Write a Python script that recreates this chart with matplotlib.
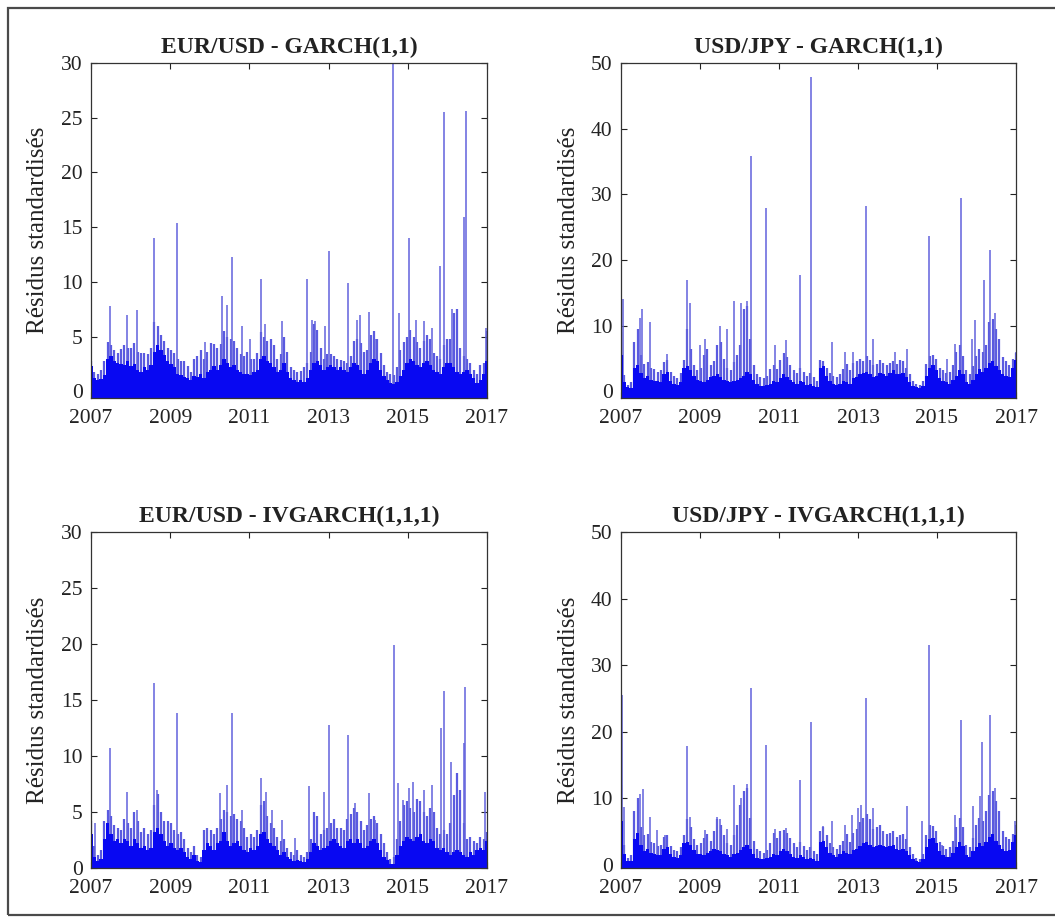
import numpy as np
import matplotlib.pyplot as plt
from matplotlib.patches import Rectangle

plt.rcParams['font.family'] = ['Liberation Serif', 'DejaVu Serif']

# monthly levels of the dense part of each series (Jan 2007 .. Dec 2016)
# "low" = solid dark part, "high" = lighter top of the dense lines
eur_garch_low = [
    2.3, 1.2, 1.0, 1.1, 1.5, 3.0, 3.2, 2.8, 2.6, 2.5, 2.4, 2.8,
    2.3, 2.5, 2.0, 1.8, 2.2, 2.0, 2.4, 3.6, 4.2, 3.8, 3.3, 2.8,
    2.5, 2.2, 1.6, 1.5, 1.3, 1.2, 1.0, 1.4, 1.3, 1.6, 1.2, 1.8,
    2.0, 2.3, 2.0, 2.4, 3.0, 2.6, 2.2, 2.4, 2.0, 1.8, 1.6, 1.6,
    1.5, 1.8, 2.0, 3.0, 3.2, 2.8, 2.6, 2.2, 1.8, 2.0, 2.6, 1.8,
    1.2, 1.0, 0.9, 1.0, 0.9, 1.2, 2.0, 2.6, 2.8, 2.4, 2.0, 2.2,
    2.4, 2.2, 2.0, 2.2, 2.0, 1.8, 2.2, 2.6, 2.4, 2.0, 1.6, 2.0,
    2.6, 3.0, 2.8, 2.0, 1.4, 1.0, 0.8, 0.7, 0.9, 1.4, 2.0, 2.6,
    3.0, 2.8, 2.4, 2.2, 2.6, 2.8, 2.4, 2.0, 1.8, 1.6, 2.2, 2.6,
    2.6, 2.2, 1.8, 1.6, 1.8, 2.0, 1.6, 1.2, 0.8, 1.0, 1.6, 2.8,
]
eur_garch_high = [
    2.8, 1.8, 1.6, 2.0, 2.8, 4.5, 4.2, 3.8, 3.5, 3.9, 4.2, 4.0,
    4.0, 4.4, 3.6, 3.5, 3.5, 3.4, 4.0, 6.3, 6.0, 5.2, 4.6, 4.0,
    3.8, 3.5, 3.0, 2.8, 2.8, 2.3, 1.8, 3.0, 3.2, 3.8, 3.0, 3.6,
    4.4, 4.3, 4.0, 4.3, 5.5, 5.0, 4.8, 4.6, 4.0, 3.4, 3.2, 3.6,
    3.0, 3.0, 3.5, 5.4, 5.0, 4.6, 4.8, 4.2, 3.0, 3.4, 5.0, 3.6,
    2.2, 2.0, 1.8, 1.9, 2.2, 2.6, 3.6, 6.2, 5.6, 4.0, 3.0, 3.4,
    3.4, 3.2, 3.0, 2.9, 2.8, 2.6, 3.2, 4.6, 4.8, 4.4, 3.6, 3.8,
    5.2, 5.5, 4.8, 3.5, 2.4, 1.8, 1.6, 1.5, 2.2, 3.8, 4.5, 5.0,
    5.6, 5.0, 4.5, 4.0, 4.6, 5.2, 4.8, 3.5, 3.2, 3.0, 4.2, 4.8,
    4.8, 7.2, 7.5, 4.0, 3.2, 3.0, 2.6, 2.0, 1.6, 2.4, 2.6, 5.5,
]
eur_garch_spike_t = [2007.49, 2007.91, 2008.16, 2008.58, 2009.17, 2009.89, 2010.31,
                     2010.43, 2010.56, 2010.81, 2011.02, 2011.29, 2011.40, 2011.82,
                     2012.45, 2012.58, 2012.66, 2012.90, 2013.00, 2013.48, 2013.72,
                     2013.80, 2014.01, 2014.18, 2014.63, 2014.77, 2015.02, 2015.20,
                     2015.40, 2015.61, 2015.82, 2015.92, 2016.12, 2016.41, 2016.46,
                     2016.98]
eur_garch_spike_v = [7.8, 7.0, 7.4, 14.0, 15.4, 4.5, 8.7,
                     7.9, 12.3, 6.0, 4.8, 10.3, 6.2, 6.4,
                     10.3, 6.5, 6.4, 6.0, 12.8, 9.9, 6.5,
                     7.0, 7.3, 4.8, 30.0, 7.2, 14.0, 6.5,
                     6.4, 5.8, 11.5, 25.5, 7.5, 15.9, 25.6,
                     5.8]

jpy_garch_low = [
    5.5, 1.5, 0.6, 0.5, 3.5, 4.0, 2.8, 2.0, 2.4, 1.8, 1.6, 1.6,
    1.4, 2.6, 3.0, 1.6, 1.2, 1.0, 1.4, 3.6, 3.8, 3.2, 2.4, 1.8,
    1.6, 1.4, 1.8, 2.2, 2.4, 2.6, 2.2, 1.8, 1.6, 1.4, 1.6, 1.8,
    2.0, 2.4, 3.0, 2.6, 1.8, 1.2, 0.9, 0.8, 1.0, 1.2, 1.6, 1.4,
    2.0, 2.6, 2.2, 1.8, 1.4, 1.2, 1.6, 1.4, 1.0, 1.2, 0.8, 0.6,
    3.6, 3.8, 2.4, 1.6, 1.2, 1.0, 1.2, 1.6, 1.4, 1.2, 2.0, 2.2,
    2.6, 2.8, 3.0, 2.6, 2.2, 2.4, 2.8, 2.6, 2.4, 2.8, 3.2, 2.6,
    2.6, 2.8, 2.2, 1.4, 0.8, 0.6, 0.5, 0.8, 2.4, 3.6, 4.0, 3.2,
    2.0, 1.6, 1.4, 1.2, 1.8, 2.4, 3.2, 2.6, 1.4, 1.2, 1.8, 2.6,
    3.4, 3.0, 3.6, 4.4, 4.6, 3.8, 3.2, 2.6, 2.4, 2.2, 3.6, 4.8,
]
jpy_garch_high = [
    9.0, 2.5, 1.0, 1.4, 7.5, 9.5, 5.5, 4.2, 4.5, 3.6, 3.4, 3.0,
    3.2, 4.5, 4.8, 3.0, 2.4, 2.0, 2.8, 4.8, 9.5, 6.5, 4.0, 3.2,
    3.6, 5.6, 6.4, 4.0, 4.6, 7.0, 7.5, 5.0, 3.6, 3.2, 4.5, 5.5,
    7.0, 12.5, 13.0, 8.0, 4.0, 2.6, 2.2, 2.0, 2.4, 3.4, 4.0, 3.4,
    4.8, 5.8, 5.2, 4.0, 3.2, 2.8, 3.5, 3.0, 2.4, 2.8, 2.2, 1.6,
    4.8, 4.6, 3.6, 2.8, 2.4, 2.2, 2.6, 3.4, 4.2, 3.2, 4.4, 4.6,
    5.0, 4.6, 5.4, 4.8, 4.0, 4.2, 4.8, 4.4, 4.0, 4.4, 4.6, 4.2,
    4.8, 4.6, 3.6, 2.6, 1.6, 1.2, 1.0, 1.6, 4.2, 5.4, 5.6, 5.0,
    3.6, 3.2, 2.8, 3.0, 4.0, 6.0, 7.0, 5.4, 3.2, 2.6, 3.8, 5.4,
    6.4, 6.0, 7.0, 10.5, 11.0, 9.5, 8.0, 5.2, 4.6, 4.0, 5.0, 5.8,
]
jpy_garch_spike_t = [2007.04, 2007.48, 2007.52, 2007.73, 2008.16, 2008.66, 2008.74,
                     2009.00, 2009.13, 2009.50, 2009.68, 2009.87, 2010.05, 2010.18,
                     2010.29, 2010.66, 2010.90, 2011.17, 2011.53, 2011.81, 2012.33,
                     2012.67, 2012.88, 2013.19, 2013.39, 2013.94, 2014.23, 2014.80,
                     2015.25, 2015.45, 2015.62, 2015.88, 2015.96, 2016.20, 2016.34,
                     2016.46, 2016.99]
jpy_garch_spike_v = [14.0, 11.2, 12.5, 10.5, 5.7, 17.0, 13.5,
                     7.0, 8.0, 10.0, 9.5, 13.8, 13.5, 13.8,
                     35.8, 28.0, 7.0, 7.8, 17.8, 47.8, 7.5,
                     6.0, 6.0, 28.3, 8.0, 6.0, 6.5, 23.7,
                     5.0, 7.2, 29.5, 8.0, 10.8, 17.0, 21.5,
                     12.0, 6.0]

eur_ivgarch_low = [
    3.0, 1.0, 0.6, 0.8, 2.6, 4.0, 3.0, 2.4, 2.6, 2.2, 2.6, 2.4,
    2.0, 2.6, 2.2, 1.8, 2.0, 1.6, 1.8, 3.2, 3.6, 3.0, 2.4, 2.0,
    2.2, 1.8, 1.6, 1.8, 1.4, 1.0, 0.8, 1.2, 0.6, 0.5, 1.6, 2.2,
    2.0, 1.6, 2.2, 2.4, 3.2, 2.4, 2.0, 2.2, 2.4, 2.0, 1.6, 1.4,
    1.8, 1.6, 2.0, 3.0, 3.2, 2.6, 2.2, 2.0, 1.6, 1.2, 1.4, 1.0,
    0.8, 0.6, 0.7, 0.6, 0.5, 0.8, 1.4, 2.2, 2.0, 1.6, 1.8, 2.0,
    2.4, 2.6, 2.2, 2.0, 1.8, 2.4, 2.6, 2.2, 2.6, 2.2, 1.8, 2.0,
    2.4, 2.6, 2.2, 1.6, 1.0, 0.7, 0.4, 0.4, 1.2, 2.0, 2.4, 2.8,
    2.6, 2.4, 2.8, 3.0, 2.4, 2.2, 2.6, 2.4, 1.8, 1.6, 1.8, 1.4,
    1.2, 1.4, 1.6, 1.4, 1.2, 1.0, 1.4, 1.2, 1.6, 1.8, 1.6, 2.4,
]
eur_ivgarch_high = [
    4.2, 2.0, 1.2, 1.6, 4.2, 5.2, 4.6, 3.8, 3.6, 3.4, 4.4, 4.0,
    3.6, 5.0, 4.2, 3.2, 3.6, 3.0, 3.4, 5.6, 6.6, 5.0, 4.2, 4.2,
    4.0, 3.4, 3.0, 3.2, 2.6, 1.8, 1.4, 2.0, 1.2, 1.0, 3.4, 3.6,
    3.4, 3.0, 3.6, 4.4, 5.2, 5.0, 4.6, 4.8, 4.4, 4.2, 3.6, 2.8,
    3.0, 2.8, 3.4, 5.6, 6.0, 4.6, 4.0, 3.6, 2.8, 2.4, 2.6, 1.8,
    1.4, 1.2, 1.6, 1.2, 1.0, 1.4, 2.6, 5.0, 4.6, 3.0, 3.4, 3.6,
    4.0, 4.4, 3.6, 3.6, 3.4, 4.4, 4.8, 5.4, 5.0, 4.2, 3.4, 3.8,
    4.4, 4.6, 4.0, 3.0, 2.2, 1.4, 0.8, 1.0, 2.6, 4.2, 5.6, 6.0,
    5.4, 5.0, 6.2, 6.0, 5.0, 4.6, 5.4, 5.0, 3.6, 3.0, 3.4, 3.0,
    4.0, 6.5, 8.5, 7.0, 4.0, 2.6, 2.8, 2.4, 2.2, 2.8, 2.6, 3.2,
]
eur_ivgarch_spike_t = [2007.10, 2007.49, 2007.91, 2008.16, 2008.58, 2008.67, 2009.17,
                       2009.93, 2010.27, 2010.43, 2010.56, 2010.81, 2011.29, 2011.42,
                       2011.57, 2011.82, 2012.16, 2012.50, 2012.88, 2013.02, 2013.48,
                       2013.67, 2014.01, 2014.18, 2014.64, 2014.74, 2014.89, 2015.04,
                       2015.14, 2015.42, 2015.62, 2015.84, 2015.92, 2016.09, 2016.41,
                       2016.45, 2016.96]
eur_ivgarch_spike_v = [4.0, 10.7, 6.8, 5.2, 16.5, 7.0, 13.8,
                       3.6, 6.7, 7.4, 13.8, 5.2, 8.0, 6.8,
                       5.2, 4.3, 2.7, 7.3, 6.8, 12.8, 11.9,
                       5.8, 6.7, 4.3, 19.9, 7.6, 6.1, 7.1,
                       7.7, 7.0, 7.4, 12.5, 15.8, 9.5, 11.2,
                       16.2, 6.8]

jpy_ivgarch_low = [
    6.5, 1.6, 0.5, 0.5, 3.8, 4.8, 3.0, 2.0, 2.4, 1.8, 1.6, 1.4,
    1.4, 2.4, 2.6, 1.6, 1.2, 1.0, 1.4, 3.2, 3.4, 3.0, 2.2, 1.6,
    1.6, 1.4, 1.8, 2.0, 2.4, 2.2, 2.0, 1.6, 1.4, 1.2, 1.6, 1.8,
    2.2, 2.6, 3.0, 2.4, 1.6, 1.0, 0.8, 0.8, 1.0, 1.2, 1.6, 1.4,
    2.0, 2.4, 2.0, 1.6, 1.2, 1.0, 1.4, 1.2, 0.8, 1.0, 0.8, 0.6,
    3.4, 3.6, 2.6, 1.8, 1.4, 1.2, 1.6, 2.0, 1.8, 1.6, 2.2, 2.4,
    2.8, 3.2, 3.4, 3.0, 2.6, 2.8, 3.0, 2.8, 2.6, 2.8, 3.0, 2.4,
    2.2, 2.4, 2.0, 1.4, 0.8, 0.5, 0.4, 0.8, 2.6, 3.8, 4.0, 3.2,
    2.0, 1.4, 1.2, 1.2, 1.8, 2.6, 3.4, 2.8, 1.4, 1.2, 2.0, 2.6,
    3.2, 2.8, 3.4, 4.2, 4.6, 3.6, 3.0, 2.4, 2.0, 2.2, 3.4, 4.4,
]
jpy_ivgarch_high = [
    12.0, 3.0, 1.0, 1.4, 8.0, 10.0, 5.6, 4.4, 4.6, 3.4, 3.2, 2.8,
    3.0, 4.2, 4.4, 2.8, 2.2, 2.0, 2.6, 4.4, 6.8, 5.6, 3.8, 3.0,
    3.2, 4.0, 4.6, 3.6, 5.0, 6.8, 6.0, 4.4, 3.2, 3.0, 4.4, 6.0,
    9.0, 11.0, 11.5, 7.0, 3.6, 2.4, 2.0, 1.8, 2.2, 3.2, 4.8, 4.0,
    5.0, 5.2, 4.8, 4.0, 3.2, 2.6, 3.4, 2.8, 2.2, 2.6, 2.0, 1.6,
    5.0, 5.6, 4.4, 3.2, 2.6, 2.4, 3.0, 3.6, 4.6, 3.4, 4.8, 5.4,
    6.4, 7.0, 7.6, 6.8, 5.4, 5.6, 6.0, 5.0, 4.6, 4.8, 5.0, 4.2,
    4.4, 4.6, 3.8, 2.6, 1.6, 1.0, 0.8, 1.6, 4.4, 6.0, 5.8, 5.0,
    3.4, 2.8, 2.4, 2.6, 3.6, 5.6, 7.0, 5.6, 3.0, 2.6, 4.0, 6.0,
    7.0, 6.6, 8.0, 10.5, 11.0, 9.5, 8.0, 5.0, 4.2, 3.8, 4.6, 6.0,
]
jpy_ivgarch_spike_t = [2007.03, 2007.07, 2007.48, 2007.56, 2007.73, 2007.90, 2008.11,
                       2008.66, 2008.74, 2009.13, 2009.42, 2009.50, 2009.68, 2009.87,
                       2010.05, 2010.18, 2010.29, 2010.66, 2010.90, 2011.17, 2011.53,
                       2011.81, 2012.12, 2012.33, 2012.67, 2012.84, 2013.01, 2013.07,
                       2013.19, 2013.39, 2013.64, 2014.23, 2014.61, 2014.80, 2015.12,
                       2015.45, 2015.62, 2015.91, 2016.08, 2016.15, 2016.33, 2016.46,
                       2016.97]
jpy_ivgarch_spike_v = [25.5, 8.7, 10.6, 11.3, 7.2, 5.2, 4.5,
                       17.8, 7.2, 5.2, 7.2, 6.8, 5.4, 12.0,
                       10.0, 12.2, 26.5, 18.0, 5.4, 5.5, 12.7,
                       21.5, 5.8, 6.5, 6.0, 7.5, 8.5, 9.0,
                       25.0, 8.5, 5.0, 8.8, 6.5, 33.0, 3.0,
                       7.4, 21.8, 8.8, 10.3, 18.5, 22.5, 11.5,
                       6.5]

titles = ['EUR/USD - GARCH(1,1)', 'USD/JPY - GARCH(1,1)',
          'EUR/USD - IVGARCH(1,1,1)', 'USD/JPY - IVGARCH(1,1,1)']
xtick_years = [2007, 2009, 2011, 2013, 2015, 2017]
eur_yticks = [0, 5, 10, 15, 20, 25, 30]
jpy_yticks = [0, 10, 20, 30, 40, 50]
ylabel = 'Résidus standardisés'

dark_blue = '#0808f2'
comb_blue = '#5a5ae0'
spike_blue = '#6262dc'
text_col = '#222222'


def draw_panel(ax, title, low, high, spike_t, spike_v, ylim, yticks):
    # one value per month, spread over the ten years
    x = np.linspace(2007, 2017, len(low))
    ymin = ylim[0]
    ax.vlines(x, ymin, high, color=comb_blue, lw=1.6, zorder=1)
    ax.vlines(spike_t, ymin, spike_v, color=spike_blue, lw=1.1, zorder=2)
    ax.fill_between(x, ymin, low, step='mid', color=dark_blue, lw=0, zorder=3)
    ax.set_xlim(2007, 2017)
    ax.set_ylim(*ylim)
    ax.set_xticks(xtick_years)
    ax.set_yticks(yticks)
    ax.tick_params(direction='in', top=True, right=True, length=4,
                   labelsize=15.5, colors=text_col, width=0.8)
    ax.tick_params(axis='x', pad=8)
    ax.tick_params(axis='y', pad=6)
    for s in ax.spines.values():
        s.set_color('#333333')
        s.set_linewidth(0.9)
        s.set_zorder(5)
    ax.set_title(title, fontsize=17, fontweight='bold', color=text_col, pad=7)
    ax.set_ylabel(ylabel, fontsize=18, color=text_col)
    ax.yaxis.set_label_coords(-0.105, 0.5)


fig = plt.figure(figsize=(10.55, 9.19), dpi=100)

ax1 = fig.add_axes([91 / 1055, 1 - 398 / 919, 396 / 1055, 335 / 919])
ax2 = fig.add_axes([621 / 1055, 1 - 398 / 919, 395 / 1055, 335 / 919])
ax3 = fig.add_axes([91 / 1055, 1 - 868 / 919, 396 / 1055, 336 / 919])
ax4 = fig.add_axes([621 / 1055, 1 - 868 / 919, 395 / 1055, 336 / 919])

draw_panel(ax1, titles[0], eur_garch_low, eur_garch_high,
           eur_garch_spike_t, eur_garch_spike_v, (-0.6, 30), eur_yticks)
draw_panel(ax2, titles[1], jpy_garch_low, jpy_garch_high,
           jpy_garch_spike_t, jpy_garch_spike_v, (-1.0, 50), jpy_yticks)
draw_panel(ax3, titles[2], eur_ivgarch_low, eur_ivgarch_high,
           eur_ivgarch_spike_t, eur_ivgarch_spike_v, (0, 30), eur_yticks)
draw_panel(ax4, titles[3], jpy_ivgarch_low, jpy_ivgarch_high,
           jpy_ivgarch_spike_t, jpy_ivgarch_spike_v, (-0.5, 50), jpy_yticks)

# outer frame of the figure window
fig.patches.append(Rectangle((8 / 1055, 4 / 919), 1.1, 907 / 919,
                             transform=fig.transFigure, fill=False,
                             edgecolor='#4a4a4a', lw=1.6))

fig.savefig('out.png', dpi=100)
